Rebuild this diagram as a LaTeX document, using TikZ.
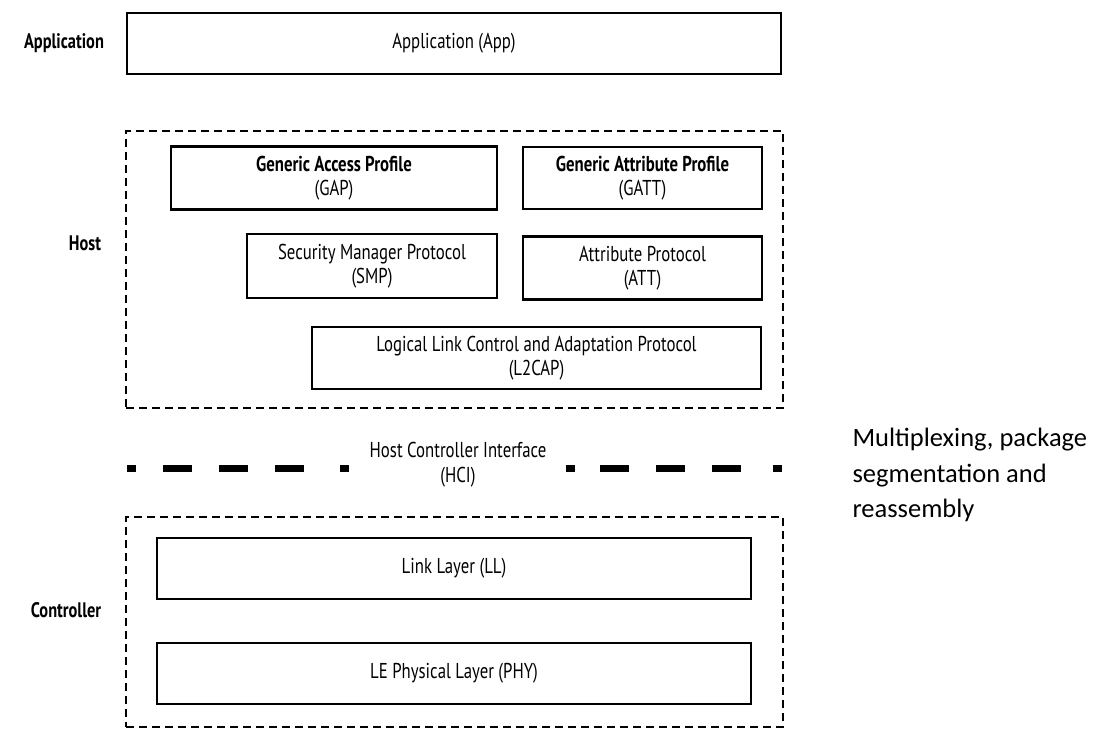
\documentclass[tikz,border=0pt]{standalone}
\usepackage{fontspec}
\newfontfamily\stackfont{PT Sans}[FakeStretch=0.78]
\newfontfamily\notefont{Carlito}
\begin{document}
\begin{tikzpicture}[x=1pt,y=-1pt,
    layer/.style={draw, line width=2.8pt, inner sep=0pt, align=center,
      font=\stackfont\fontsize{21.5}{24}\selectfont},
    groupbox/.style={draw, line width=2.4pt, dash pattern=on 8pt off 5pt, inner sep=0pt},
    side/.style={font=\stackfont\bfseries\fontsize{21}{24}\selectfont},
    note/.style={anchor=west, align=left, font=\notefont\fontsize{26.5}{35.5}\selectfont}]
    \useasboundingbox (0,0) rectangle (1100,730);
    %% Side labels
    \node[side] (lapp)  at (64,43)  {Application};
    \node[side] (lhost) at (85,243) {Host};
    \node[side] (lctrl) at (66,610) {Controller};
    %% Application
    \node[layer, minimum width=654pt, minimum height=61pt] (app) at (454,43.5) {Application (App)};
    %% Host
    \node[groupbox, minimum width=657pt, minimum height=277pt] (host) at (454.5,269.5) {};
    \node[layer, minimum width=326pt, minimum height=63pt] (gap)  at (334,178)
        {\bfseries Generic Access Profile\\(GAP)};
    \node[layer, minimum width=239pt, minimum height=62pt] (gatt) at (642.5,178)
        {\bfseries Generic Attribute Profile\\(GATT)};
    \node[layer, minimum width=250pt, minimum height=64pt] (smp)  at (372,266)
        {Security Manager Protocol\\(SMP)};
    \node[layer, minimum width=239pt, minimum height=63pt] (att)  at (642.5,268)
        {Attribute Protocol\\(ATT)};
    \node[layer, minimum width=449pt, minimum height=62pt] (l2cap) at (536.5,358)
        {Logical Link Control and Adaptation Protocol\\(L2CAP)};
    %% HCI
    \node[align=center, inner sep=0pt, font=\stackfont\fontsize{21.5}{25}\selectfont] (hci) at (458,465)
        {Host Controller Interface\\(HCI)};
    \foreach \a/\b in {127/136,163/192,219/248,275/304,340/349,
                       566/575,600/629,656/685,712/741,773/782}
        \draw[line width=7pt] (\a,468) -- (\b,468);
    %% Controller
    \node[groupbox, minimum width=657pt, minimum height=210pt] (ctrl) at (454.5,622) {};
    \node[layer, minimum width=594pt, minimum height=61pt] (ll)  at (454,568.5) {Link Layer (LL)};
    \node[layer, minimum width=594pt, minimum height=61pt] (phy) at (454,673.5) {LE Physical Layer (PHY)};
    %% Note
    \node[note] (mux) at (849,475) {Multiplexing, package\\segmentation and\\reassembly};
\end{tikzpicture}
\end{document}
